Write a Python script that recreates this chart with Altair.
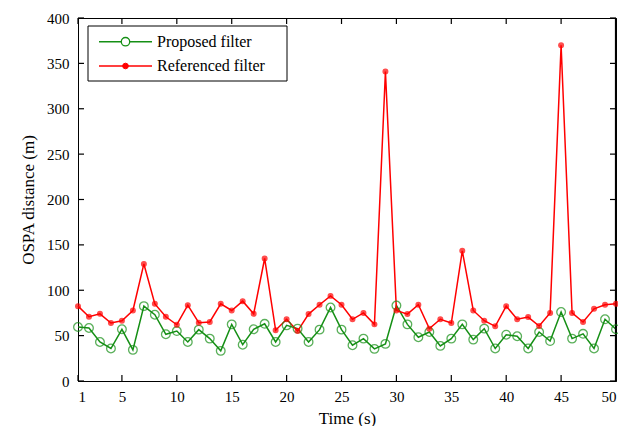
import altair as alt
import pandas as pd

time_s = list(range(1, 51))
proposed = [59.5, 58.4, 43, 35.8, 57, 34.3, 82.5, 73, 51.5, 55, 43, 56.6, 46.7, 33.2, 62.4, 40, 57,
            63, 43, 61.3, 57.7, 43, 56.6, 81, 56.6, 39.4, 46.7, 35.4, 40.9, 83.2, 62.4, 48.2, 54,
            38.7, 46.7, 62.4, 45.6, 57.7, 35.8, 51, 49.3, 35.8, 54, 44, 76, 46.7, 52, 35.8, 68, 57]
referenced = [82.5, 70.8, 74, 63.9, 66.4, 77.7, 129, 85, 70.8, 62, 83.6, 64.2, 65, 85, 77.7, 88, 74,
              135, 56, 68, 55, 73.7, 84, 93.8, 84, 68, 75, 62.4, 341, 77.7, 73.7, 84, 57.7,
              68, 63.9, 143.4, 77.7, 66.4, 60.2, 82.5, 68, 70.4, 60.6, 75, 370, 75, 65, 79.6, 84, 85]
series_names = ["Proposed filter", "Referenced filter"]
x_ticks = [1, 5, 10, 15, 20, 25, 30, 35, 40, 45, 50]
y_ticks = [0, 50, 100, 150, 200, 250, 300, 350, 400]

df = pd.DataFrame({
    "t": time_s * 2,
    "v": proposed + referenced,
    "series": [series_names[0]] * 50 + [series_names[1]] * 50,
})
xt = pd.DataFrame({"t": x_ticks})
yt = pd.DataFrame({"v": y_ticks})
lab0 = pd.DataFrame({"label": [series_names[0]]})
lab1 = pd.DataFrame({"label": [series_names[1]]})

W, H = 538, 363
GREEN = "#158f15"
RED = "#ff0000"
INK = "#000000"
FONT = "Liberation Serif"

xscale = alt.Scale(domain=[1, 50], nice=False, zero=False)
yscale = alt.Scale(domain=[0, 400], nice=False)
xaxis = alt.Axis(title="Time (s)", values=x_ticks, ticks=False, grid=False, labelPadding=8,
                 titlePadding=6, domainColor=INK, labelFont=FONT, titleFont=FONT,
                 labelFontSize=15, titleFontSize=17, labelColor=INK, titleColor=INK,
                 titleFontWeight="normal")
yaxis = alt.Axis(title="OSPA distance (m)", values=y_ticks, ticks=False, grid=False, labelPadding=9,
                 titlePadding=9, domainColor=INK, labelFont=FONT, titleFont=FONT,
                 labelFontSize=15, titleFontSize=17, labelColor=INK, titleColor=INK,
                 titleFontWeight="normal")
X = alt.X("t:Q", scale=xscale, axis=xaxis)
Y = alt.Y("v:Q", scale=yscale, axis=yaxis)

color_scale = alt.Scale(domain=series_names, range=[GREEN, RED])

lines = alt.Chart(df).mark_line(strokeWidth=1.5).encode(
    x=X, y=Y,
    color=alt.Color("series:N", scale=color_scale, legend=None),
)

# frame (top and right edges) and inward ticks
frame_top = alt.Chart(lab0).mark_rule(color=INK, strokeWidth=1.2).encode(
    x=alt.value(0), x2=alt.value(W), y=alt.value(0.5))
frame_right = alt.Chart(lab0).mark_rule(color=INK, strokeWidth=1.2).encode(
    x=alt.value(W - 0.5), y=alt.value(0), y2=alt.value(H))
tb = alt.Chart(xt).mark_rule(color=INK, strokeWidth=1.2).encode(x=X, y=alt.value(H), y2=alt.value(H - 6))
tt = alt.Chart(xt).mark_rule(color=INK, strokeWidth=1.2).encode(x=X, y=alt.value(0), y2=alt.value(6))
tl = alt.Chart(yt).mark_rule(color=INK, strokeWidth=1.2).encode(y=Y, x=alt.value(0), x2=alt.value(6))
tr = alt.Chart(yt).mark_rule(color=INK, strokeWidth=1.2).encode(y=Y, x=alt.value(W), x2=alt.value(W - 6))

# legend box
LX0, LX1, LY0, LY1 = 10, 209, 8, 63
ROW0, ROW1 = 23.7, 48
SX0, SX1, SC = 21, 74, 47.5
leg_box = alt.Chart(lab0).mark_rect(fill="white", stroke=INK, strokeWidth=1).encode(
    x=alt.value(LX0), x2=alt.value(LX1), y=alt.value(LY0), y2=alt.value(LY1))
leg_l0 = alt.Chart(lab0).mark_rule(color=GREEN, strokeWidth=1.5).encode(
    x=alt.value(SX0), x2=alt.value(SX1), y=alt.value(ROW0))
leg_l1 = alt.Chart(lab1).mark_rule(color=RED, strokeWidth=1.5).encode(
    x=alt.value(SX0), x2=alt.value(SX1), y=alt.value(ROW1))
leg_m0 = alt.Chart(lab0).mark_arc(theta=0, theta2=6.2832, outerRadius=4.2, fill="white",
                                  stroke=GREEN, strokeWidth=1.3).encode(
    x=alt.value(SC), y=alt.value(ROW0))
leg_m1 = alt.Chart(lab1).mark_arc(theta=0, theta2=6.2832, outerRadius=2.8, fill=RED,
                                  stroke=RED, strokeWidth=1).encode(
    x=alt.value(SC), y=alt.value(ROW1))
leg_t0 = alt.Chart(lab0).mark_text(align="left", baseline="middle", font=FONT, fontSize=16,
                                   color=INK).encode(
    x=alt.value(79), y=alt.value(ROW0), text="label:N")
leg_t1 = alt.Chart(lab1).mark_text(align="left", baseline="middle", font=FONT, fontSize=16,
                                   color=INK).encode(
    x=alt.value(79), y=alt.value(ROW1), text="label:N")

points = alt.Chart(df).mark_point(filled=False, strokeWidth=1.3).encode(
    x=X, y=Y,
    color=alt.Color("series:N", scale=color_scale, legend=None),
    fill=alt.Fill("series:N", scale=alt.Scale(domain=series_names, range=["transparent", RED]),
                  legend=None),
    size=alt.Size("series:N", scale=alt.Scale(domain=series_names, range=[75, 22]), legend=None),
)

chart = alt.layer(lines, frame_top, frame_right, tb, tt, tl, tr,
                  leg_box, leg_l0, leg_l1, leg_m0, leg_m1, leg_t0, leg_t1,
                  points).properties(
    width=W, height=H,
    autosize=alt.AutoSizeParams(type="none"),
    padding={"left": 70, "top": 10, "right": 2, "bottom": 45},
).configure_view(stroke=INK, strokeWidth=1)

chart.save("out.html", embed_options={"renderer": "svg", "actions": False})
